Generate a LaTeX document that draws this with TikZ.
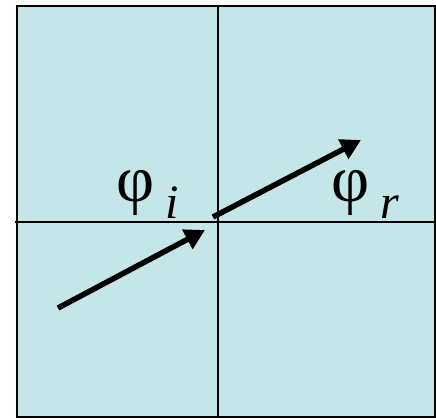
\documentclass[tikz,border=0pt]{standalone}
\usepackage{fontspec}
\setmainfont{Liberation Serif}
\usetikzlibrary{arrows.meta}
\definecolor{panelcyan}{HTML}{C5E6E9}
\tikzset{
  % panel and its axes
  panel/.style={draw=black, fill=panelcyan, line width=2.8pt},
  axisline/.style={draw=black, line width=2.5pt},
  % rays
  ray/.style={-{Triangle[length=20pt, width=21pt]}, line width=5.5pt},
  % angle labels
  anglabel/.style={font=\fontsize{66}{70}\selectfont, inner sep=0pt, anchor=base west},
}
\newcommand{\lowsub}[1]{\hspace{11pt}\raisebox{-17pt}{\fontsize{48}{52}\selectfont\itshape #1}}
\begin{document}
\begin{tikzpicture}[x=1pt, y=-1pt]
  \useasboundingbox (0,0) rectangle (436,418);

  % panel
  \draw[panel] (17,6) rectangle (435,417);
  \coordinate (west) at (15,222);
  \coordinate (east) at (435,222);
  \coordinate (north) at (218,6);
  \coordinate (south) at (218,417);
  \draw[axisline] (west) -- (east);
  \draw[axisline] (north) -- (south);

  % incident and refracted rays
  \coordinate (inStart) at (58,308);
  \coordinate (inEnd) at (205,230);
  \coordinate (outStart) at (213,217);
  \coordinate (outEnd) at (361,140);
  \draw[ray] (inStart) -- (inEnd);
  \draw[ray] (outStart) -- (outEnd);

  % labels
  \node[anglabel] (phiI) at (116,201) {φ\lowsub{i}};
  \node[anglabel] (phiR) at (331,201) {φ\lowsub{r}};
\end{tikzpicture}
\end{document}
